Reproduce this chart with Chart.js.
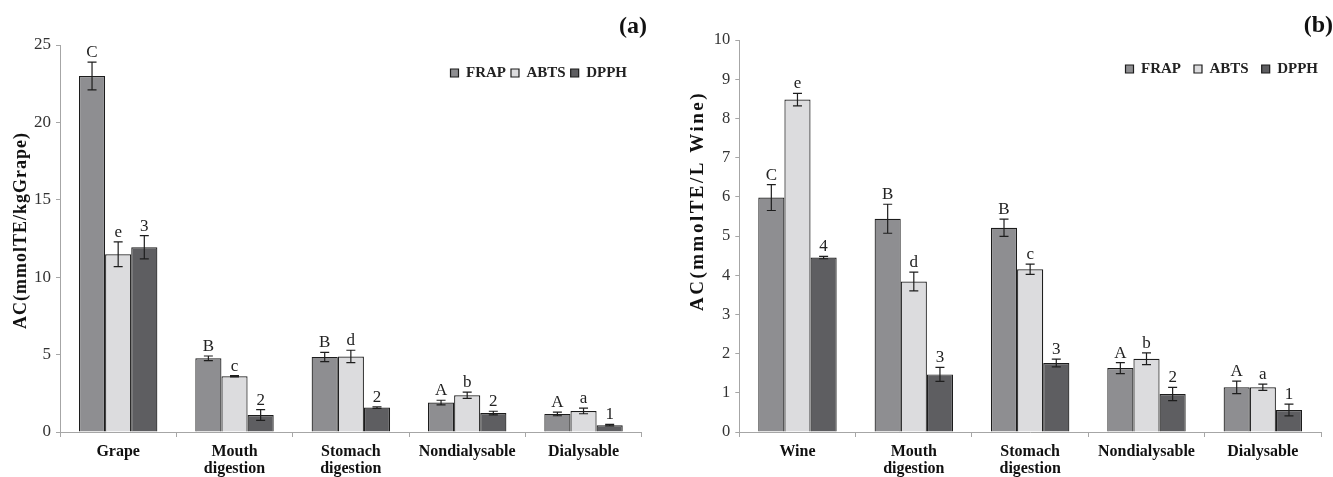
<!DOCTYPE html>
<html>
<head>
<meta charset="utf-8">
<script src="https://cdn.jsdelivr.net/npm/chart.js@4.4.1/dist/chart.umd.min.js"></script>
<style>
  html, body { margin: 0; padding: 0; background: #fff; }
  .panel { position: absolute; top: 0; width: 665px; height: 477px; }
  #wrapA { left: 0; }
  #wrapB { left: 668px; }
</style>
</head>
<body>
<div class="panel" id="wrapA"><canvas id="chartA" width="665" height="477"></canvas></div>
<div class="panel" id="wrapB"><canvas id="chartB" width="665" height="477"></canvas></div>
<script>
// panel (a): grape
const groupsA = ['Grape', ['Mouth', 'digestion'], ['Stomach', 'digestion'], 'Nondialysable', 'Dialysable'];
const frapA = [23.0, 4.76, 4.85, 1.9, 1.17];
const frapErrA = [0.9, 0.15, 0.3, 0.15, 0.12];
const abtsA = [11.48, 3.6, 4.88, 2.37, 1.36];
const abtsErrA = [0.8, 0.04, 0.4, 0.2, 0.18];
const dpphA = [11.93, 1.1, 1.58, 1.22, 0.44];
const dpphErrA = [0.75, 0.35, 0.05, 0.12, 0.05];
const frapLetA = ['C', 'B', 'B', 'A', 'A'];
const abtsLetA = ['e', 'c', 'd', 'b', 'a'];
const dpphLetA = ['3', '2', '2', '2', '1'];

// panel (b): wine
const groupsB = ['Wine', ['Mouth', 'digestion'], ['Stomach', 'digestion'], 'Nondialysable', 'Dialysable'];
const frapB = [5.98, 5.44, 5.21, 1.63, 1.14];
const frapErrB = [0.33, 0.37, 0.22, 0.14, 0.16];
const abtsB = [8.48, 3.84, 4.15, 1.87, 1.14];
const abtsErrB = [0.16, 0.24, 0.13, 0.15, 0.08];
const dpphB = [4.45, 1.47, 1.76, 0.97, 0.56];
const dpphErrB = [0.03, 0.18, 0.1, 0.17, 0.15];
const frapLetB = ['C', 'B', 'B', 'A', 'A'];
const abtsLetB = ['e', 'd', 'c', 'b', 'a'];
const dpphLetB = ['4', '3', '3', '2', '1'];

const serif = '"Liberation Serif", "Times New Roman", serif';
const axisGray = '#a6a6a6';

const errorBars = {
    id: 'errorBars',
    afterDatasetsDraw(chart) {
        const ctx = chart.ctx;
        const y = chart.scales.y;
        ctx.save();
        chart.data.datasets.forEach((ds, i) => {
            const meta = chart.getDatasetMeta(i);
            meta.data.forEach((bar, j) => {
                const v = ds.data[j], e = ds.errors[j];
                const top = y.getPixelForValue(v + e);
                const bot = y.getPixelForValue(v - e);
                ctx.strokeStyle = '#1e1e1e';
                ctx.lineWidth = 1.2;
                ctx.beginPath();
                ctx.moveTo(bar.x, top); ctx.lineTo(bar.x, bot);
                ctx.moveTo(bar.x - 4.5, top); ctx.lineTo(bar.x + 4.5, top);
                ctx.moveTo(bar.x - 4.5, bot); ctx.lineTo(bar.x + 4.5, bot);
                ctx.stroke();
                ctx.fillStyle = '#222';
                ctx.font = '17px ' + serif;
                ctx.textAlign = 'center';
                ctx.textBaseline = 'bottom';
                ctx.fillText(ds.letters[j], bar.x, top - 1);
            });
        });
        ctx.restore();
    }
};

// legend sits inside the plot, so it takes no layout room
const legendPlace = {
    id: 'legendPlace',
    beforeLayout(chart) {
        const lg = chart.legend;
        if (lg && !lg._flat) {
            const fit = lg.fit;
            lg.fit = function() { fit.call(this); this.height = 0; };
            lg._flat = true;
        }
    },
    afterLayout(chart, args, opts) {
        const lg = chart.legend;
        lg.top = opts.top;
        lg.bottom = opts.top + 40;
        lg.left = chart.chartArea.left;
        lg.right = opts.right;
    }
};

// panel tag and the spaced-out rotated y title
const panelText = {
    id: 'panelText',
    afterDraw(chart, args, opts) {
        const ctx = chart.ctx;
        ctx.save();
        ctx.fillStyle = '#111';
        ctx.font = 'bold 24px ' + serif;
        ctx.textAlign = 'right';
        ctx.textBaseline = 'middle';
        ctx.fillText(opts.tag, opts.tagX, opts.tagY);
        ctx.translate(opts.titleX, opts.titleY);
        ctx.rotate(-Math.PI / 2);
        ctx.font = 'bold ' + opts.titleSize + 'px ' + serif;
        ctx.letterSpacing = opts.spacing + 'px';
        ctx.textAlign = 'center';
        ctx.fillText(opts.title, 0, 0);
        ctx.restore();
    }
};

function makeChart(id, p) {
    return new Chart(document.getElementById(id), {
        type: 'bar',
        data: {
            labels: p.labels,
            datasets: [
                { label: 'FRAP', data: p.frap, errors: p.frapErr, letters: p.frapLet,
                  backgroundColor: '#8e8e91', borderColor: '#1c1c1c', borderWidth: 1.2 },
                { label: 'ABTS', data: p.abts, errors: p.abtsErr, letters: p.abtsLet,
                  backgroundColor: '#dcdcde', borderColor: '#1c1c1c', borderWidth: 1.2 },
                { label: 'DPPH', data: p.dpph, errors: p.dpphErr, letters: p.dpphLet,
                  backgroundColor: '#5e5e61', borderColor: '#1c1c1c', borderWidth: 1.2 }
            ]
        },
        options: {
            responsive: false,
            animation: false,
            events: [],
            layout: { padding: { top: p.top, right: p.right, left: 0, bottom: 0 } },
            datasets: { bar: { categoryPercentage: 0.674, barPercentage: 1.0 } },
            plugins: {
                tooltip: { enabled: false },
                legend: {
                    position: 'top',
                    align: 'end',
                    fullSize: false,
                    labels: {
                        boxWidth: 8, boxHeight: 8,
                        padding: p.legPad,
                        color: '#222',
                        font: { family: serif, size: 15, weight: 'bold' }
                    }
                },
                legendPlace: { top: p.legTop, right: p.legRight },
                panelText: {
                    tag: p.tag, tagX: p.tagX, tagY: p.tagY,
                    title: p.yTitle, titleX: p.titleX, titleY: p.titleY,
                    titleSize: p.titleSize, spacing: p.spacing
                }
            },
            scales: {
                x: {
                    offset: true,
                    ticks: {
                        color: '#111',
                        font: { family: serif, size: 16, weight: 'bold', lineHeight: 1.08 },
                        padding: 6, maxRotation: 0, autoSkip: false
                    },
                    grid: { offset: true, drawOnChartArea: false, tickLength: 5, color: axisGray },
                    border: { color: axisGray },
                    afterFit(s) { s.height = 45; }
                },
                y: {
                    min: 0, max: p.yMax,
                    ticks: { stepSize: p.step, color: '#333', font: { family: serif, size: p.tickSize }, padding: 5 },
                    grid: { drawOnChartArea: false, tickLength: 4, color: axisGray },
                    border: { color: axisGray },
                    afterFit(s) { s.width = p.axisX; }
                }
            }
        },
        plugins: [errorBars, legendPlace, panelText]
    });
}

window.addEventListener('load', function() {
    makeChart('chartA', {
        labels: groupsA, frap: frapA, frapErr: frapErrA, frapLet: frapLetA,
        abts: abtsA, abtsErr: abtsErrA, abtsLet: abtsLetA,
        dpph: dpphA, dpphErr: dpphErrA, dpphLet: dpphLetA,
        yMax: 25, step: 5, tickSize: 17,
        yTitle: 'AC(mmolTE/kgGrape)', titleX: 21, titleY: 230.5, titleSize: 18, spacing: 1,
        axisX: 60, top: 45, right: 23.3,
        legPad: 5, legTop: 60.5, legRight: 632,
        tag: '(a)', tagX: 647, tagY: 27
    });
    makeChart('chartB', {
        labels: groupsB, frap: frapB, frapErr: frapErrB, frapLet: frapLetB,
        abts: abtsB, abtsErr: abtsErrB, abtsLet: abtsLetB,
        dpph: dpphB, dpphErr: dpphErrB, dpphLet: dpphLetB,
        yMax: 10, step: 1, tickSize: 16.5,
        yTitle: 'AC(mmolTE/L Wine)', titleX: 30.5, titleY: 201, titleSize: 19, spacing: 2.5,
        axisX: 71.3, top: 40, right: 12,
        legPad: 13, legTop: 48.5, legRight: 663,
        tag: '(b)', tagX: 665, tagY: 26
    });
});
</script>
</body>
</html>
